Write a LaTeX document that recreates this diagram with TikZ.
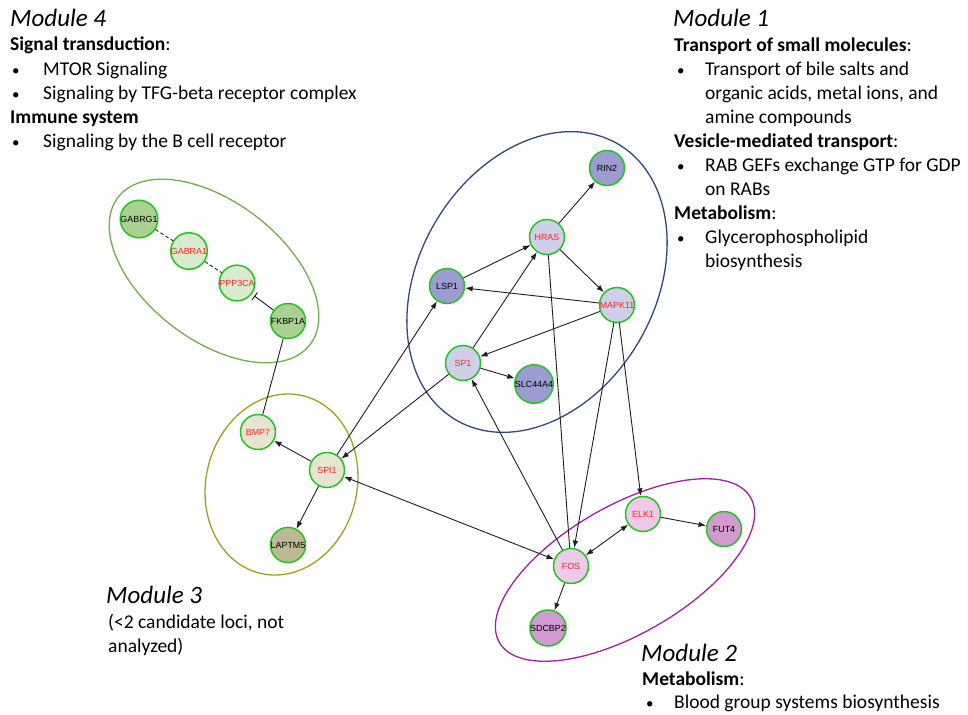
\documentclass[tikz,border=0pt]{standalone}
\usepackage{fontspec}
\setmainfont{Carlito}
\newfontfamily\genefont{Liberation Sans}
\usetikzlibrary{arrows.meta}
\definecolor{nodeborder}{HTML}{22C422}
\definecolor{genered}{HTML}{FF2424}
\definecolor{gdark}{HTML}{A9D190}
\definecolor{glight}{HTML}{D8EBCE}
\definecolor{ldark}{HTML}{9C9CD2}
\definecolor{llight}{HTML}{CFCFEA}
\definecolor{bdark}{HTML}{BDB994}
\definecolor{blight}{HTML}{E7E5D2}
\definecolor{pdark}{HTML}{D39AD2}
\definecolor{plight}{HTML}{EDCAE9}
\definecolor{mfour}{HTML}{72AE4A}
\definecolor{mone}{HTML}{2E4A7A}
\definecolor{mthree}{HTML}{A59D1E}
\definecolor{mtwo}{HTML}{A022A0}
\begin{document}
\begin{tikzpicture}[x=1pt,y=-1pt,
  gene/.style={circle,draw=nodeborder,line width=1.5pt,minimum size=35pt,inner sep=0pt,
    font=\genefont\fontsize{8.9}{9}\selectfont},
  hl/.style={text=genered},
  edge/.style={line width=0.9pt,draw=black!88},
  arr/.style={edge,-{Latex[length=7.5pt,width=5.5pt]}},
  barr/.style={edge,{Latex[length=7.5pt,width=5.5pt]}-{Latex[length=7.5pt,width=5.5pt]}},
  tbar/.style={edge,-{Bar[width=9pt,line width=1pt]},shorten >=3pt},
  dashedge/.style={edge,dash pattern=on 3.5pt off 2.5pt},
  modline/.style={line width=1.3pt},
  ttl/.style={anchor=base west,inner sep=0pt,font=\itshape\fontsize{25}{30}\selectfont},
  txt/.style={anchor=base west,inner sep=0pt,font=\fontsize{19.5}{24}\selectfont},
  bul/.style={anchor=base west,inner sep=0pt,font=\fontsize{15}{24}\selectfont},
]
\useasboundingbox[fill=white] (0,0) rectangle (968,714);

% module ellipses
\draw[modline,mfour,rotate around={-37.5:(214,271)}] (214,271) ellipse [x radius=121,y radius=69];
\draw[modline,mone,rotate around={59.5:(537,282)}] (537,282) ellipse [x radius=160,y radius=118];
\draw[modline,mthree,rotate around={-13.6:(281.5,484.5)}] (281.5,484.5) ellipse [x radius=75.5,y radius=91.3];
\draw[modline,mtwo,rotate around={30:(625,570)}] (625,570) ellipse [x radius=145,y radius=64];

% genes
\node[gene,fill=gdark] (gabrg1) at (139,219) {GABRG1};
\node[gene,fill=glight,hl] (gabra1) at (189,251) {GABRA1};
\node[gene,fill=glight,hl] (ppp3ca) at (237,283) {PPP3CA};
\node[gene,fill=gdark] (fkbp1a) at (288,321) {FKBP1A};
\node[gene,fill=blight,hl] (bmp7) at (258,432) {BMP7};
\node[gene,fill=blight,hl] (spi1) at (327,470) {SPI1};
\node[gene,fill=bdark] (laptm5) at (288,545) {LAPTM5};
\node[gene,fill=ldark] (rin2) at (607,168) {RIN2};
\node[gene,fill=llight,hl] (hras) at (547,237) {HRAS};
\node[gene,fill=ldark] (lsp1) at (447,286) {LSP1};
\node[gene,fill=llight,hl] (mapk11) at (617,305) {MAPK11};
\node[gene,fill=llight,hl] (sp1) at (463,363) {SP1};
\node[gene,fill=ldark] (slc44a4) at (534,384) {SLC44A4};
\node[gene,fill=plight,hl] (elk1) at (643,514) {ELK1};
\node[gene,fill=pdark] (fut4) at (724,529) {FUT4};
\node[gene,fill=plight,hl] (fos) at (571,566) {FOS};
\node[gene,fill=pdark] (sdcbp2) at (548,628) {SDCBP2};

% connectors
\draw[dashedge] (gabrg1) -- (gabra1);
\draw[dashedge] (gabra1) -- (ppp3ca);
\draw[tbar] (fkbp1a) -- (ppp3ca);
\draw[edge] (fkbp1a) -- (bmp7);
\draw[arr] (spi1) -- (bmp7);
\draw[arr] (spi1) -- (laptm5);
\draw[arr] (spi1) -- (lsp1);
\draw[arr] (sp1) -- (spi1);
\draw[barr] (spi1) -- (fos);
\draw[arr] (lsp1) -- (hras);
\draw[arr] (sp1) -- (hras);
\draw[arr] (hras) -- (rin2);
\draw[arr] (hras) -- (mapk11);
\draw[arr] (mapk11) -- (lsp1);
\draw[arr] (mapk11) -- (sp1);
\draw[arr] (sp1) -- (slc44a4);
\draw[edge] (hras) -- (fos);
\draw[arr] (mapk11) -- (fos);
\draw[arr] (mapk11) -- (elk1);
\draw[arr] (fos) -- (sp1);
\draw[barr] (fos) -- (elk1);
\draw[arr] (elk1) -- (fut4);
\draw[arr] (fos) -- (sdcbp2);

% Module 4 text
\node[ttl] (m4t) at (10,27) {Module 4};
\node[txt] (m4h1) at (10,51) {\textbf{Signal transduction}:};
\node[bul] (m4b1) at (12,76) {•};
\node[txt] (m4l1) at (43,76) {MTOR Signaling};
\node[bul] (m4b2) at (12,100) {•};
\node[txt] (m4l2) at (43,100) {Signaling by TFG-beta receptor complex};
\node[txt] (m4h2) at (10,124) {\textbf{Immune system}};
\node[bul] (m4b3) at (12,148) {•};
\node[txt] (m4l3) at (43,148) {Signaling by the B cell receptor};

% Module 1 text
\node[ttl] (m1t) at (673,27) {Module 1};
\node[txt] (m1h1) at (674,51.5) {\textbf{Transport of small molecules}:};
\node[bul] (m1b1) at (677,76) {•};
\node[txt] (m1l1) at (705,76) {Transport of bile salts and};
\node[txt] (m1l2) at (705,100) {organic acids, metal ions, and};
\node[txt] (m1l3) at (705,123.5) {amine compounds};
\node[txt] (m1h2) at (674,147.5) {\textbf{Vesicle-mediated transport}:};
\node[bul] (m1b2) at (677,171.5) {•};
\node[txt] (m1l4) at (705,171.5) {RAB GEFs exchange GTP for GDP};
\node[txt] (m1l5) at (705,195.5) {on RABs};
\node[txt] (m1h3) at (674,219.5) {\textbf{Metabolism}:};
\node[bul] (m1b3) at (677,243.5) {•};
\node[txt] (m1l6) at (705,243.5) {Glycerophospholipid};
\node[txt] (m1l7) at (705,267.5) {biosynthesis};

% Module 2 text
\node[ttl] (m2t) at (641,661) {Module 2};
\node[txt] (m2h1) at (642,685) {\textbf{Metabolism}:};
\node[bul] (m2b1) at (646,708.5) {•};
\node[txt] (m2l1) at (674,708.5) {Blood group systems biosynthesis};

% Module 3 text
\node[ttl] (m3t) at (106,603) {Module 3};
\node[txt] (m3l1) at (108,628) {(<2 candidate loci, not};
\node[txt] (m3l2) at (108,652) {analyzed)};
\end{tikzpicture}
\end{document}
